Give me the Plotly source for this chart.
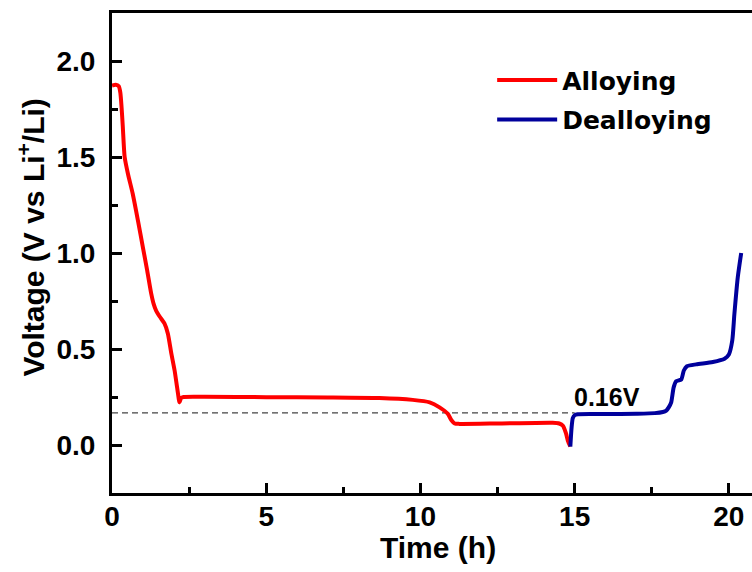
import plotly.graph_objects as go

# Alloying (discharge) curve: time (h) and voltage (V)
alloy_t = [0.00, 0.12, 0.22, 0.27, 0.31, 0.35, 0.41, 0.52, 0.67, 0.84, 1.00, 1.14, 1.27, 1.35,
           1.43, 1.55, 1.70, 1.81, 1.92, 2.03, 2.12, 2.19, 2.24, 2.32, 3.0, 5.0, 7.0, 8.67,
           9.75, 10.30, 10.62, 10.89, 11.00, 11.11, 11.27, 12.5, 14.29, 14.50, 14.62, 14.72,
           14.78, 14.86]
alloy_v = [1.872, 1.876, 1.868, 1.835, 1.76, 1.658, 1.50, 1.41, 1.31, 1.17, 1.031, 0.91, 0.79,
           0.735, 0.70, 0.668, 0.633, 0.581, 0.48, 0.388, 0.29, 0.222, 0.245, 0.250, 0.251,
           0.249, 0.248, 0.245, 0.235, 0.222, 0.196, 0.162, 0.13, 0.112, 0.110, 0.112, 0.116,
           0.112, 0.10, 0.06, 0.022, -0.008]

# Dealloying (charge) curve
dealloy_t = [14.86, 14.90, 14.94, 15.00, 15.10, 16.0, 17.0, 17.6, 17.86, 17.97, 18.05, 18.13,
             18.21, 18.29, 18.40, 18.46, 18.54, 18.64, 18.94, 19.48, 19.86, 20.0, 20.11, 20.18,
             20.29, 20.40]
dealloy_v = [-0.008, 0.09, 0.14, 0.155, 0.160, 0.161, 0.163, 0.166, 0.172, 0.179, 0.196, 0.222,
             0.30, 0.332, 0.338, 0.342, 0.388, 0.41, 0.42, 0.432, 0.449, 0.471, 0.544, 0.684,
             0.875, 1.0]

# Reference voltage line
ref_t = [0.0, 15.0]
ref_v = [0.167, 0.167]
ref_label = "0.16V"

x_ticks = [0, 5, 10, 15, 20]
y_ticks = [0.0, 0.5, 1.0, 1.5, 2.0]
y_tick_text = ["0.0", "0.5", "1.0", "1.5", "2.0"]

ARIAL = "Liberation Sans, Arial, sans-serif"

fig = go.Figure()
fig.add_trace(go.Scatter(x=ref_t, y=ref_v, mode="lines", showlegend=False,
                         line=dict(color="#444444", width=1.2, dash="6px,4px"), hoverinfo="skip"))
fig.add_trace(go.Scatter(x=alloy_t, y=alloy_v, mode="lines", name="Alloying", legendgroup="a",
                         line=dict(color="#FF0000", width=4, shape="spline", smoothing=0.6)))
fig.add_trace(go.Scatter(x=dealloy_t, y=dealloy_v, mode="lines", name="Dealloying", legendgroup="b",
                         line=dict(color="#00009C", width=4, shape="spline", smoothing=0.6)))

axis_common = dict(
    showline=True, linecolor="black", linewidth=3, showgrid=False, zeroline=False,
    ticks="inside", ticklen=10, tickwidth=3, tickcolor="black",
    tickfont=dict(family=ARIAL, size=28, color="black", weight="bold"),
)

fig.update_xaxes(range=[0, 20.75], tickvals=x_ticks, mirror=True, ticklabelstandoff=-4,
                 minor=dict(ticks="inside", ticklen=6, tickwidth=3, tickcolor="black", dtick=2.5),
                 **axis_common)
fig.update_yaxes(range=[-0.25, 2.25], tickvals=y_ticks, ticktext=y_tick_text, mirror=False,
                 ticklabelstandoff=8,
                 minor=dict(ticks="inside", ticklen=6, tickwidth=3, tickcolor="black", dtick=0.25),
                 **axis_common)

fig.add_annotation(x=-0.1266, y=0.532, xref="paper", yref="paper", showarrow=False,
                   text="Voltage (V vs Li<sup>+</sup>/Li)", textangle=-90,
                   xanchor="center", yanchor="middle",
                   font=dict(family=ARIAL, size=30, color="black", weight="bold"))
fig.add_annotation(x=0.51, y=-0.1125, xref="paper", yref="paper", showarrow=False,
                   text="Time (h)", xanchor="center", yanchor="middle",
                   font=dict(family=ARIAL, size=30, color="black", weight="bold"))
fig.add_annotation(x=16.05, y=0.248, xref="x", yref="y", showarrow=False, text=ref_label,
                   xanchor="center", yanchor="middle",
                   font=dict(family=ARIAL, size=25, color="black", weight="bold"))

fig.update_layout(
    width=752, height=572,
    margin=dict(l=112, r=0, t=13, b=79),
    plot_bgcolor="white", paper_bgcolor="white",
    legend=dict(x=0.594, y=0.908, xanchor="left", yanchor="top", bgcolor="rgba(0,0,0,0)",
                itemwidth=60, tracegroupgap=4,
                font=dict(family="DejaVu Sans", size=25, color="black", weight="bold")),
)

fig.write_html("out.html", config={"displayModeBar": False},
               post_script="document.body.style.margin='0';document.body.style.padding='0';")
